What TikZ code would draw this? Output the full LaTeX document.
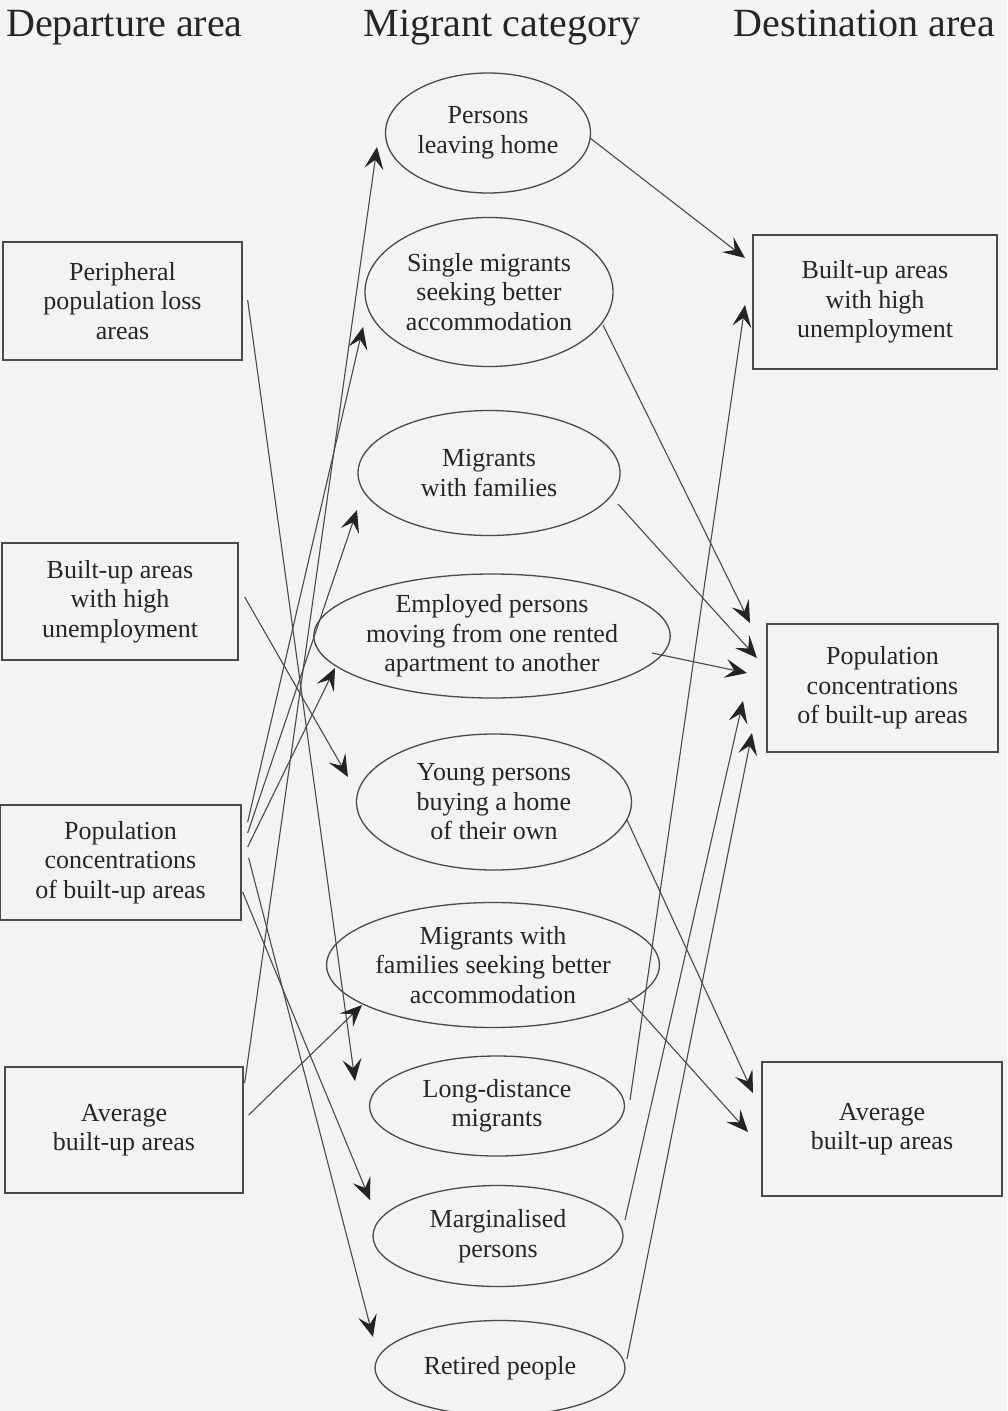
\documentclass[tikz,border=0pt]{standalone}
\usepackage{fontspec}
\setmainfont{Liberation Serif}
\usetikzlibrary{shapes.geometric,arrows.meta}
\definecolor{ink}{HTML}{262626}
\definecolor{linec}{HTML}{4A4A4A}
\definecolor{tipc}{HTML}{242424}
\definecolor{paper}{HTML}{F3F3F3}
\newcommand{\bodyfont}{\fontsize{26}{29.5}\selectfont}
\newcommand{\hdrfont}{\fontsize{40}{44}\selectfont}
\begin{document}
\begin{tikzpicture}[x=1pt,y=-1pt,
  box/.style={draw=linec, line width=1.3pt, rectangle, inner sep=0pt, align=center, font=\bodyfont, text=ink},
  oval/.style={draw=linec, line width=1.3pt, ellipse, inner sep=0pt, align=center, font=\bodyfont, text=ink},
  arr/.style={draw=linec, line width=1.1pt, -{Stealth[length=22pt,width=19pt,inset=9pt,color=tipc]}},
  hdr/.style={font=\hdrfont, text=ink, inner sep=0pt}]
\fill[paper] (0,0) rectangle (1007,1411);
\useasboundingbox (0,0) rectangle (1007,1411);

% headers
\node[hdr, anchor=base west] (hdep) at (6,36) {Departure area};
\node[hdr, anchor=base] (hmig) at (502,36) {Migrant category};
\node[hdr, anchor=base east] (hdes) at (995,36) {Destination area};

% departure boxes
\node[box, minimum width=239pt, minimum height=118pt] (lb1) at (122.5,301) {Peripheral\\population loss\\areas};
\node[box, minimum width=236pt, minimum height=117pt] (lb2) at (120,601.5) {Built-up areas\\with high\\unemployment};
\node[box, minimum width=241pt, minimum height=115pt] (lb3) at (120.5,862.5) {Population\\concentrations\\of built-up areas};
\node[box, minimum width=238pt, minimum height=126pt] (lb4) at (124,1130) {Average\\built-up areas};

% migrant categories
\node[oval, minimum width=205pt, minimum height=120pt] (plh) at (488,133) {Persons\\leaving home};
\node[oval, minimum width=248pt, minimum height=149pt] (sgl) at (489,292) {Single migrants\\seeking better\\accommodation};
\node[oval, minimum width=262pt, minimum height=125pt] (fam) at (489,473) {Migrants\\with families};
\node[oval, minimum width=315pt, minimum height=124pt] (emp) at (492,636) {Employed persons\\moving from one rented\\apartment to another};
\node[oval, minimum width=275pt, minimum height=136pt] (yng) at (494,802) {Young persons\\buying a home\\of their own};
\node[oval, minimum width=287pt, minimum height=125pt] (msk) at (493,965) {Migrants with\\families seeking better\\accommodation};
\node[oval, minimum width=255pt, minimum height=100pt] (lng) at (497,1106) {Long-distance\\migrants};
\node[oval, minimum width=250pt, minimum height=101pt] (mrg) at (498,1236) {Marginalised\\persons};
\node[oval, minimum width=250pt, minimum height=95pt] (ret) at (500,1368) {Retired people};

% destination boxes
\node[box, minimum width=244pt, minimum height=134pt] (rb1) at (875,302) {Built-up areas\\with high\\unemployment};
\node[box, minimum width=231pt, minimum height=128pt] (rb2) at (882.5,688) {Population\\concentrations\\of built-up areas};
\node[box, minimum width=240pt, minimum height=134pt] (rb3) at (882,1129) {Average\\built-up areas};

% departure -> category
\draw[arr] ([shift={(5,-1)}]lb1.east) -- ([shift={(-142,-25)}]lng.center);
\draw[arr] ([shift={(6,-4.5)}]lb2.east) -- ([shift={(-146,-25)}]yng.center);
\draw[arr] ([shift={(6,-40.5)}]lb3.east) -- ([shift={(-126,35)}]sgl.center);
\draw[arr] ([shift={(6,-29.5)}]lb3.east) -- ([shift={(-132,37)}]fam.center);
\draw[arr] ([shift={(6,-15.5)}]lb3.east) -- ([shift={(-157,32)}]emp.center);
\draw[arr] ([shift={(7,-4.5)}]lb3.east) -- ([shift={(-127,-31)}]ret.center);
\draw[arr] ([shift={(1,29.5)}]lb3.east) -- ([shift={(-128,-36)}]mrg.center);
\draw[arr] ([shift={(5,-15)}]lb4.east) -- ([shift={(-131,40)}]msk.center);
\draw[arr] ([shift={(1,-47)}]lb4.east) -- ([shift={(-111,14)}]plh.center);

% category -> destination
\draw[arr] ([shift={(102,5)}]plh.center) -- ([shift={(-130,-44)}]rb1.center);
\draw[arr] ([shift={(114,33)}]sgl.center) -- ([shift={(-132.5,-65)}]rb2.center);
\draw[arr] ([shift={(129,31)}]fam.center) -- ([shift={(-125.5,-30)}]rb2.center);
\draw[arr] ([shift={(160,17)}]emp.center) -- ([shift={(-135.5,-15)}]rb2.center);
\draw[arr] ([shift={(133,18)}]yng.center) -- ([shift={(-129,-36)}]rb3.center);
\draw[arr] ([shift={(135,33)}]msk.center) -- ([shift={(-134,3)}]rb3.center);
\draw[arr] ([shift={(133,-6)}]lng.center) -- ([shift={(-130,3)}]rb1.center);
\draw[arr] ([shift={(127,-16)}]mrg.center) -- ([shift={(-139.5,13)}]rb2.center);
\draw[arr] ([shift={(127,-9)}]ret.center) -- ([shift={(-130.5,45)}]rb2.center);
\end{tikzpicture}
\end{document}
